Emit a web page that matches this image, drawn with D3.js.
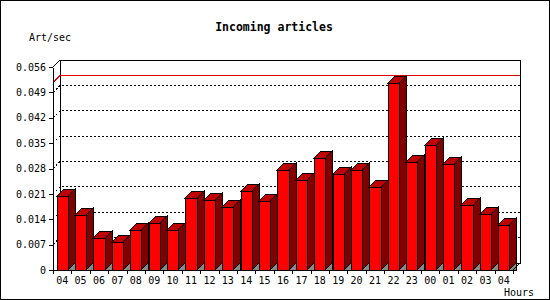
<!DOCTYPE html>
<html>
<head>
<meta charset="utf-8">
<script src="https://cdn.jsdelivr.net/npm/d3@7"></script>
<style>
  body { margin: 0; background: #fff; }
  svg { display: block; }
  text { font-family: "DejaVu Sans Mono", monospace; fill: #000; }
</style>
</head>
<body>
<svg id="chart" width="550" height="300"></svg>
<script>
// hours on the x axis (starts and ends at 04)
var hours = ["04","05","06","07","08","09","10","11","12","13","14","15","16",
             "17","18","19","20","21","22","23","00","01","02","03","04"];
// articles per second
var rates = [0.0204,0.0151,0.0087,0.0076,0.0109,0.0131,0.0109,0.0200,0.0193,0.0173,
             0.0217,0.0189,0.0277,0.0248,0.0308,0.0264,0.0277,0.0228,0.0517,0.0298,
             0.0346,0.0292,0.0179,0.0154,0.0123];
var yTicks = [0,0.007,0.014,0.021,0.028,0.035,0.042,0.049,0.056];

var svg = d3.select("#chart"),
    width = +svg.attr("width"),
    height = +svg.attr("height");

var depth = 7;
var left = 53, right = 513, bottom = 270;

var x = d3.scaleBand()
    .domain(d3.range(hours.length))
    .range([left, right])
    .padding(0);
var y = d3.scaleLinear()
    .domain([0, 0.056])
    .range([bottom, 67]);

var plotTop = y(0.056);
var barW = x.bandwidth() * 0.6;

// frame
svg.append("rect")
    .attr("x", 0.5).attr("y", 0.5)
    .attr("width", width - 1).attr("height", height - 1)
    .attr("fill", "#fff").attr("stroke", "#000");

// back wall of the plot
svg.append("rect")
    .attr("x", left + depth).attr("y", plotTop - depth)
    .attr("width", right - left).attr("height", bottom - plotTop)
    .attr("fill", "#fff").attr("stroke", "#000")
    .attr("shape-rendering", "crispEdges");

// dotted grid lines, starting at the front axis and running along the back wall
var line = d3.line();
svg.append("g").selectAll("path")
    .data(yTicks.filter(function(t) { return t > 0 && t < 0.056; }))
  .enter().append("path")
    .attr("d", function(t) {
        return line([[left, y(t)], [left + depth, y(t) - depth], [right + depth, y(t) - depth]]);
    })
    .attr("fill", "none")
    .attr("stroke", "#000")
    .attr("stroke-dasharray", "2,2")
    .attr("shape-rendering", "crispEdges");

// red line at the maximum
var maxV = d3.max(rates);
svg.append("path")
    .attr("d", line([[left, y(maxV)], [left + depth, y(maxV) - depth], [right + depth, y(maxV) - depth]]))
    .attr("fill", "none")
    .attr("stroke", "#e00000")
    .attr("shape-rendering", "crispEdges");

// 3d bars
var bars = svg.append("g")
    .attr("stroke", "#000")
    .attr("stroke-linejoin", "miter")
    .attr("shape-rendering", "crispEdges")
  .selectAll("g")
    .data(rates)
  .enter().append("g");

function bx0(d, i) { return Math.round(x(i) + (x.bandwidth() - barW) / 2); }
function bx1(d, i) { return Math.round(x(i) + (x.bandwidth() + barW) / 2); }

// floor shadow
bars.append("path")
    .attr("fill", "#888")
    .attr("d", function(d, i) {
        var a = bx1(d, i);
        return line([[a, bottom], [a + depth, bottom - depth], [a + depth, bottom]]) + "Z";
    });
// side
bars.append("path")
    .attr("fill", "#800000")
    .attr("d", function(d, i) {
        var a = bx1(d, i), t = Math.round(y(d));
        return line([[a, t], [a + depth, t - depth], [a + depth, bottom - depth], [a, bottom]]) + "Z";
    });
// top
bars.append("path")
    .attr("fill", "#c00000")
    .attr("d", function(d, i) {
        var a = bx0(d, i), b = bx1(d, i), t = Math.round(y(d));
        return line([[a, t], [a + depth, t - depth], [b + depth, t - depth], [b, t]]) + "Z";
    });
// front
bars.append("rect")
    .attr("fill", "#ff0000")
    .attr("x", bx0)
    .attr("y", function(d) { return Math.round(y(d)); })
    .attr("width", function(d, i) { return bx1(d, i) - bx0(d, i); })
    .attr("height", function(d) { return bottom - Math.round(y(d)); });

// y axis
var yAxis = svg.append("g")
    .attr("transform", "translate(" + left + ",0)")
    .call(d3.axisLeft(y)
        .tickValues(yTicks)
        .tickSize(4)
        .tickSizeOuter(0)
        .tickPadding(3)
        .tickFormat(function(d) { return d === 0 ? "0" : d3.format(".3f")(d); }));
yAxis.selectAll("text").attr("font-size", 10).attr("font-family", "DejaVu Sans Mono");
yAxis.selectAll("line, path").attr("shape-rendering", "crispEdges");

// x axis: labels at the middle, tick marks on the category edges
var xAxis = svg.append("g")
    .attr("transform", "translate(0," + bottom + ")")
    .call(d3.axisBottom(x)
        .tickSize(0)
        .tickSizeOuter(0)
        .tickPadding(7)
        .tickFormat(function(i) { return hours[i]; }));
xAxis.selectAll("text").attr("font-size", 10).attr("font-family", "DejaVu Sans Mono");
xAxis.select(".domain").attr("shape-rendering", "crispEdges");
xAxis.selectAll(".edge")
    .data(d3.range(hours.length + 1))
  .enter().append("line")
    .attr("class", "edge")
    .attr("x1", function(i) { return Math.round(left + i * x.step()) + 0.5; })
    .attr("x2", function(i) { return Math.round(left + i * x.step()) + 0.5; })
    .attr("y1", 0).attr("y2", 4)
    .attr("stroke", "#000")
    .attr("shape-rendering", "crispEdges");

// corner diagonals joining the front axes to the back wall
svg.append("path")
    .attr("d", line([[left, plotTop], [left + depth, plotTop - depth]]))
    .attr("stroke", "#000").attr("fill", "none").attr("shape-rendering", "crispEdges");
svg.append("path")
    .attr("d", line([[right, bottom], [right + depth, bottom - depth]]))
    .attr("stroke", "#000").attr("fill", "none").attr("shape-rendering", "crispEdges");

// titles
svg.append("text")
    .attr("x", 274).attr("y", 31)
    .attr("text-anchor", "middle")
    .attr("font-size", 11.5)
    .attr("font-weight", "bold")
    .text("Incoming articles");
svg.append("text")
    .attr("x", 29).attr("y", 41)
    .attr("font-size", 10)
    .text("Art/sec");
svg.append("text")
    .attr("x", 504).attr("y", 296)
    .attr("font-size", 10)
    .text("Hours");
</script>
</body>
</html>
